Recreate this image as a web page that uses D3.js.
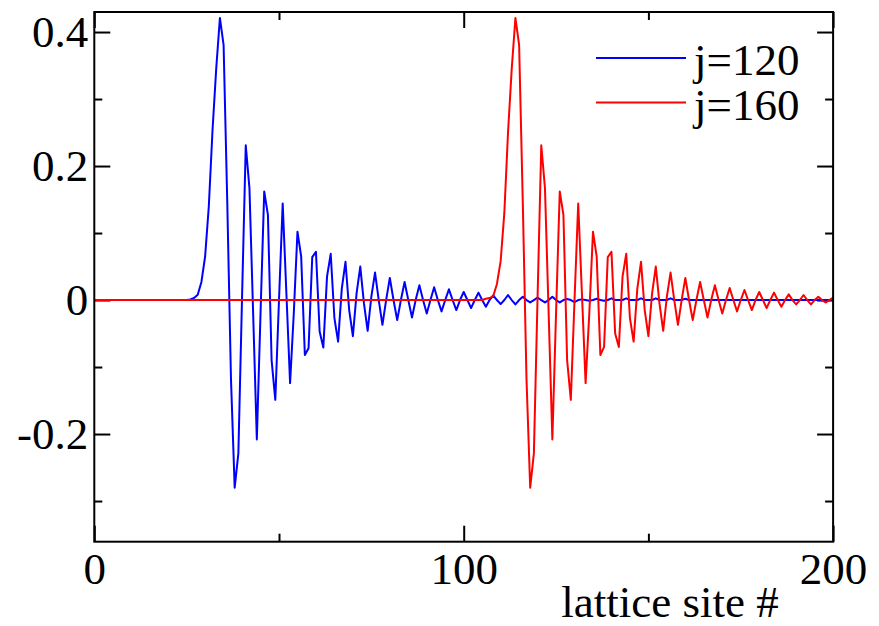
<!DOCTYPE html>
<html>
<head>
<meta charset="utf-8">
<script src="https://cdn.jsdelivr.net/npm/d3@7"></script>
<style>
  body { margin: 0; background: #fff; }
  svg { display: block; }
</style>
</head>
<body>
<script>
// Wave amplitude along the lattice for two values of j

// values, one per lattice site
var blueStart = 25;
var blueValues = [
  0.000, 0.001, 0.003, 0.008, 0.027, 0.065, 0.140, 0.253, 0.345, 0.421,   // 25-34
  0.381, 0.145, -0.118, -0.280, -0.229, 0.005, 0.231, 0.167, -0.020, -0.208, // 35-44
  -0.020, 0.162, 0.127, -0.090, -0.149, 0.000, 0.144, 0.010, -0.124, -0.020, // 45-54
  0.102, 0.065, -0.082, -0.072, 0.064, 0.072, -0.047, -0.071, 0.035, 0.069,  // 55-64
  -0.027, -0.062, 0.017, 0.057, -0.015, -0.054, 0.010, 0.050, -0.005, -0.046, // 65-74
  0.005, 0.041, 0.000, -0.037, 0.000, 0.033, 0.000, -0.030, 0.000, 0.027,   // 75-84
  0.000, -0.026, 0.000, 0.022, 0.000, -0.020, 0.000, 0.019, 0.000, -0.017,  // 85-94
  0.000, 0.016, 0.000, -0.015, 0.000, 0.012, 0.000, -0.012, 0.000, 0.011,   // 95-104
  0.000, -0.010, 0.000, 0.007, 0.000, -0.006, 0.000, 0.0075, 0.000, -0.0065, // 105-114
  0.000, 0.005, 0.000, -0.0035, 0.000, 0.0035, 0.000, -0.0035, 0.000, 0.005, // 115-124
  0.000, -0.0035, 0.000, 0.0015, 0.000, -0.003, 0.000, 0.001, 0.000, -0.001, // 125-134
  0.000, 0.002, 0.000, -0.001, 0.000, 0.0025, 0.000, 0.000, 0.000, 0.0025,  // 135-144
  0.000, 0.000, 0.000, 0.0025, 0.000, 0.000, 0.000, 0.0025, 0.000, 0.000,   // 145-154
  0.000, 0.0025, 0.000, 0.000, 0.000, 0.002                                  // 155-160
];

var redStart = 105;
var redValues = [
  0.000, 0.002, 0.003, 0.006, 0.024, 0.058, 0.130, 0.250, 0.345, 0.421,   // 105-114
  0.381, 0.145, -0.118, -0.280, -0.229, 0.005, 0.231, 0.167, -0.020, -0.208, // 115-124
  -0.020, 0.162, 0.127, -0.090, -0.149, 0.000, 0.144, 0.010, -0.124, -0.020, // 125-134
  0.102, 0.065, -0.082, -0.070, 0.064, 0.072, -0.050, -0.070, 0.035, 0.069,  // 135-144
  -0.027, -0.062, 0.017, 0.057, -0.015, -0.054, 0.010, 0.050, -0.005, -0.046, // 145-154
  0.005, 0.041, 0.000, -0.037, 0.000, 0.033, 0.000, -0.030, 0.000, 0.027,   // 155-164
  0.000, -0.026, 0.000, 0.022, 0.000, -0.020, 0.000, 0.018, 0.000, -0.017,  // 165-174
  0.000, 0.015, 0.000, -0.015, 0.000, 0.012, 0.000, -0.012, 0.000, 0.011,   // 175-184
  0.000, -0.010, 0.000, 0.0085, 0.000, -0.0065, 0.000, 0.0075, 0.000, -0.0065, // 185-194
  0.000, 0.005, 0.000, -0.0035, 0.000, 0.0035                               // 195-200
];

var seriesNames = ['j=120', 'j=160'];
var seriesColors = ['#0000ff', '#ff0000'];

var xMajorTicks = [0, 100, 200];
var xMinorTicks = [50, 150];
var yMajorTicks = [-0.2, 0, 0.2, 0.4];
var yMinorTicks = [-0.3, -0.1, 0.1, 0.3];
var yTickLabels = ['-0.2', '0', '0.2', '0.4'];

var svgWidth = 879;
var svgHeight = 626;
var plot = { left: 94.3, right: 833.1, top: 12, bottom: 541.7 };
var font = "'Liberation Serif', 'Times New Roman', serif";

var svg = d3.select('body').append('svg')
  .attr('width', svgWidth)
  .attr('height', svgHeight);

svg.append('rect')
  .attr('width', svgWidth)
  .attr('height', svgHeight)
  .attr('fill', '#fff');

var xScale = d3.scaleLinear()
  .domain([0, 200])
  .range([plot.left, plot.right]);

var yScale = d3.scaleLinear()
  .domain([-0.3607, 0.4299])
  .range([plot.bottom, plot.top]);

// ticks on all four sides, pointing inward: major 16px, minor 8px
var sides = [
  { make: d3.axisBottom, scale: xScale, at: 'translate(0,' + plot.bottom + ')', major: xMajorTicks, minor: xMinorTicks },
  { make: d3.axisTop, scale: xScale, at: 'translate(0,' + plot.top + ')', major: xMajorTicks, minor: xMinorTicks },
  { make: d3.axisLeft, scale: yScale, at: 'translate(' + plot.left + ',0)', major: yMajorTicks, minor: yMinorTicks },
  { make: d3.axisRight, scale: yScale, at: 'translate(' + plot.right + ',0)', major: yMajorTicks, minor: yMinorTicks }
];

sides.forEach(function(s) {
  [[s.major, 16], [s.minor, 8]].forEach(function(t) {
    svg.append('g').attr('transform', s.at)
      .call(s.make(s.scale).tickValues(t[0]).tickSizeInner(-t[1]).tickSizeOuter(0).tickFormat(''))
      .call(function(g) { g.select('.domain').remove(); })
      .selectAll('line').attr('stroke', '#000').attr('stroke-width', 2);
  });
});

// full lattice 0..200, zero outside the read range
function toPoints(start, values) {
  return d3.range(0, 201).map(function(s) {
    var i = s - start;
    return [s, (i >= 0 && i < values.length) ? values[i] : 0];
  });
}

var series = [toPoints(blueStart, blueValues), toPoints(redStart, redValues)];

var line = d3.line()
  .x(function(d) { return xScale(d[0]); })
  .y(function(d) { return yScale(d[1]); });

svg.append('g')
  .selectAll('path')
  .data(series)
  .enter()
  .append('path')
  .attr('d', line)
  .attr('fill', 'none')
  .attr('stroke', function(d, i) { return seriesColors[i]; })
  .attr('stroke-width', 2)
  .attr('stroke-linejoin', 'round');

// frame
svg.append('rect')
  .attr('x', plot.left)
  .attr('y', plot.top)
  .attr('width', plot.right - plot.left)
  .attr('height', plot.bottom - plot.top)
  .attr('fill', 'none')
  .attr('stroke', '#000')
  .attr('stroke-width', 2);

// tick labels
svg.append('g')
  .attr('transform', 'translate(0,' + plot.bottom + ')')
  .call(d3.axisBottom(xScale).tickValues(xMajorTicks).tickSize(0).tickPadding(10))
  .call(function(g) { g.select('.domain').remove(); })
  .attr('font-family', font)
  .attr('font-size', 45)
  .selectAll('text').attr('fill', '#000');

svg.append('g')
  .attr('transform', 'translate(' + plot.left + ',0)')
  .call(d3.axisLeft(yScale).tickValues(yMajorTicks).tickSize(0).tickPadding(6)
    .tickFormat(function(d, i) { return yTickLabels[i]; }))
  .call(function(g) { g.select('.domain').remove(); })
  .attr('font-family', font)
  .attr('font-size', 45)
  .selectAll('text').attr('fill', '#000');

// axis title
svg.append('text')
  .attr('x', 670)
  .attr('y', 617)
  .attr('text-anchor', 'middle')
  .attr('font-family', font)
  .attr('font-size', 45)
  .text('lattice site #');

// legend
var legend = svg.append('g')
  .selectAll('g')
  .data(seriesNames)
  .enter()
  .append('g')
  .attr('transform', function(d, i) { return 'translate(596,' + (58 + i * 44.5) + ')'; });

legend.append('line')
  .attr('x1', 0)
  .attr('x2', 90)
  .attr('stroke', function(d, i) { return seriesColors[i]; })
  .attr('stroke-width', 2);

legend.append('text')
  .attr('x', 98)
  .attr('y', 17)
  .attr('font-family', font)
  .attr('font-size', 45)
  .text(function(d) { return d; });
</script>
</body>
</html>
